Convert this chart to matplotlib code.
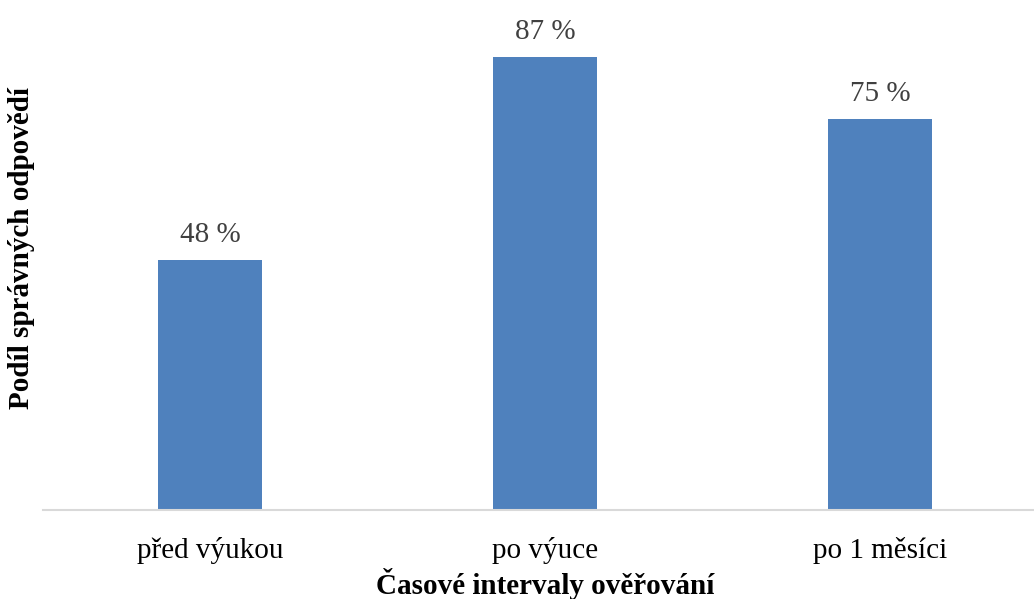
import matplotlib.pyplot as plt

categories = ['před výukou', 'po výuce', 'po 1 měsíci']
values = [48, 87, 75]
labels = [f'{v} %' for v in values]

plt.rcParams['font.family'] = ['Liberation Serif', 'DejaVu Serif']

fig = plt.figure(figsize=(10.34, 5.99), dpi=100)
ax = fig.add_axes([43 / 1034, (599 - 509.8) / 599, 991 / 1034, 509.8 / 599])

x = range(len(categories))
bars = ax.bar(x, values, width=0.313, color='#4f81bd', zorder=2)

for xi, v, lab in zip(x, values, labels):
    ax.annotate(lab, xy=(xi, v), xytext=(0, 18), textcoords='offset points',
                ha='center', va='center', fontsize=21, color='#404040')

ax.set_xlim(-0.4985, 2.4597)
ax.set_ylim(0, 97.9)
ax.set_xticks(list(x))
ax.set_xticklabels(categories, fontsize=21, color='black')
ax.tick_params(axis='x', length=0, pad=19.5)
ax.set_yticks([])

for side in ['top', 'right', 'left']:
    ax.spines[side].set_visible(False)
ax.spines['bottom'].set_color('#d9d9d9')
ax.spines['bottom'].set_linewidth(1.5)

fig.text(545 / 1034, 1 - 584 / 599, 'Časové intervaly ověřování', ha='center', va='center',
         fontsize=21, fontweight='bold')
fig.text(22 / 1034, 1 - 248 / 599, 'Podíl správných odpovědí', ha='center', va='center',
         rotation=90, fontsize=21, fontweight='bold')

fig.savefig('out.png', dpi=100)
